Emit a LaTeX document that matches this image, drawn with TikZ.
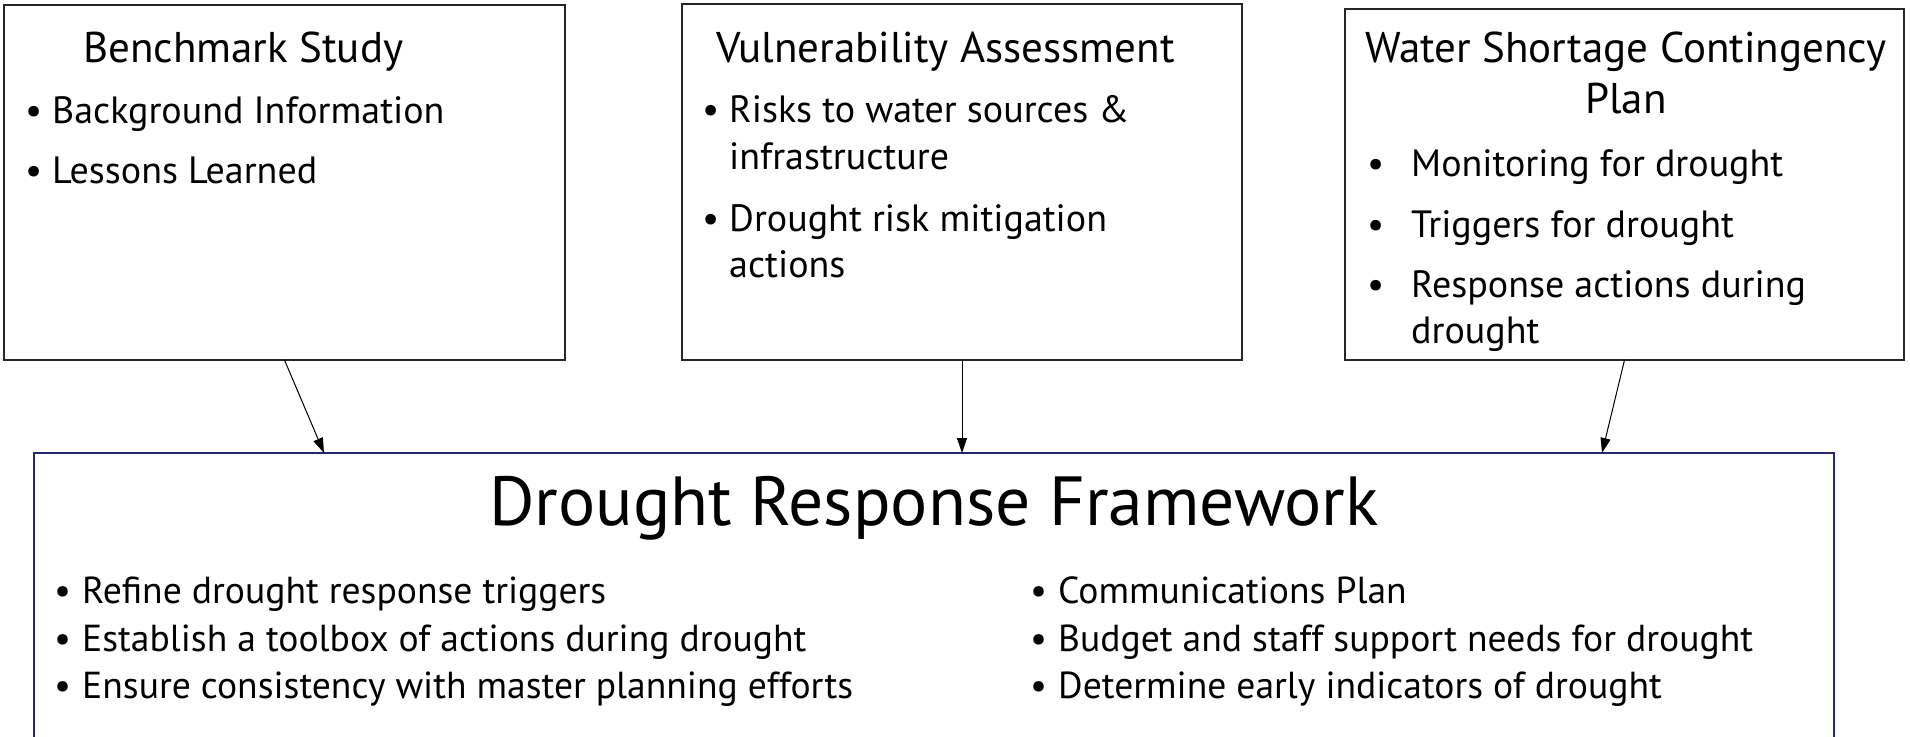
\documentclass[tikz,border=0pt]{standalone}
\usepackage{fontspec}
\setmainfont{PT Sans}
\usetikzlibrary{arrows.meta}
\definecolor{navy}{HTML}{24286E}
\begin{document}
\begin{tikzpicture}[x=1pt,y=-1pt,
  box/.style={draw=black!85, line width=2pt, inner sep=0pt, outer sep=0pt, anchor=north west},
  ttl/.style={inner sep=0pt, font=\fontsize{43}{50}\selectfont},
  itm/.style={anchor=base west, inner sep=0pt, font=\fontsize{38}{44}\selectfont},
  fitm/.style={anchor=base west, inner sep=0pt, font=\fontsize{37.6}{44}\selectfont},
  big/.style={anchor=base, inner sep=0pt, font=\fontsize{69.5}{80}\selectfont},
  arr/.style={-{Triangle[length=15pt,width=10pt]}, line width=1pt}]
\useasboundingbox (0,0) rectangle (1910,736);
\clip (0,0) rectangle (1910,736);
% boxes
\node[box, minimum width=561pt, minimum height=355pt] (b1) at (4,5) {};
\node[box, minimum width=560pt, minimum height=356pt] (b2) at (682,4) {};
\node[box, minimum width=559pt, minimum height=351pt] (b3) at (1345,9) {};
\node[box, draw=navy, minimum width=1800pt, minimum height=320pt] (fw) at (34,453) {};
% box 1
\node[ttl, anchor=base west] (t1) at (83,62) {Benchmark Study};
\node[itm] (b1p1) at (25,123) {•};
\node[itm] (b1i1) at (52,123) {Background Information};
\node[itm] (b1p2) at (25,183) {•};
\node[itm] (b1i2) at (52,183) {Lessons Learned};
% box 2
\node[ttl, anchor=base west] (t2) at (716,62) {Vulnerability Assessment};
\node[itm] (b2p1) at (702,122) {•};
\node[itm] (b2i1) at (729,122) {Risks to water sources \&};
\node[itm] (b2i1b) at (729,169) {infrastructure};
\node[itm] (b2p2) at (702,231) {•};
\node[itm] (b2i2) at (729,231) {Drought risk mitigation};
\node[itm] (b2i2b) at (729,277) {actions};
% box 3
\node[ttl, anchor=base] (t3) at (1626,62) {Water Shortage Contingency};
\node[ttl, anchor=base] (t3b) at (1626,113) {Plan};
\node[itm] (b3p1) at (1367,176) {•};
\node[itm] (b3i1) at (1411,176) {Monitoring for drought};
\node[itm] (b3p2) at (1367,237) {•};
\node[itm] (b3i2) at (1411,237) {Triggers for drought};
\node[itm] (b3p3) at (1367,297) {•};
\node[itm] (b3i3) at (1411,297) {Response actions during};
\node[itm] (b3i3b) at (1411,343) {drought};
% framework
\node[big] (t4) at (934,525) {Drought Response Framework};
\node[fitm] (fp1) at (54,603) {•};
\node[fitm] (fi1) at (82,603) {Refine drought response triggers};
\node[fitm] (fp2) at (54,651) {•};
\node[fitm] (fi2) at (82,651) {Establish a toolbox of actions during drought};
\node[fitm] (fp3) at (54,698) {•};
\node[fitm] (fi3) at (82,698) {Ensure consistency with master planning efforts};
\node[fitm] (fp4) at (1030,603) {•};
\node[fitm] (fi4) at (1058,603) {Communications Plan};
\node[fitm] (fp5) at (1030,651) {•};
\node[fitm] (fi5) at (1058,651) {Budget and staff support needs for drought};
\node[fitm] (fp6) at (1030,698) {•};
\node[fitm] (fi6) at (1058,698) {Determine early indicators of drought};
% arrows
\draw[arr] (b1.south) -- ([xshift=-610pt]fw.north);
\draw[arr] (b2.south) -- ([xshift=28pt]fw.north);
\draw[arr] (b3.south) -- ([xshift=668pt]fw.north);
\end{tikzpicture}
\end{document}
